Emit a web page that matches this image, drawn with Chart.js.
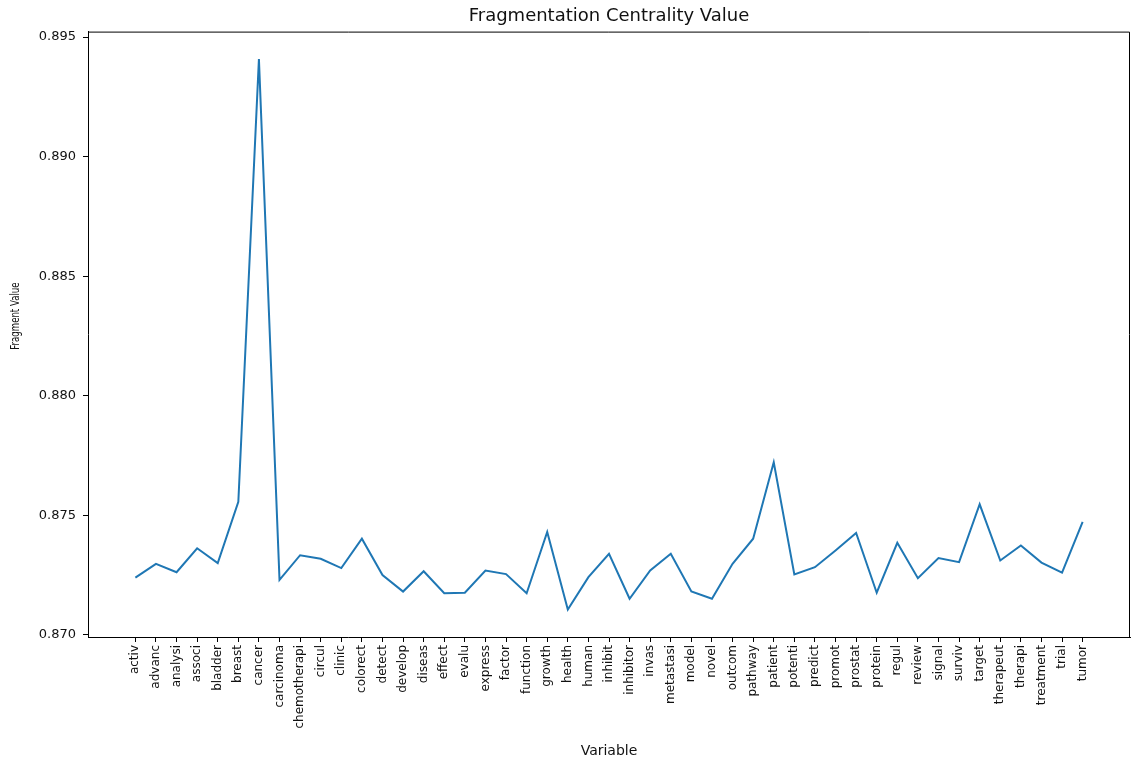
<!DOCTYPE html>
<html>
<head>
<meta charset="utf-8">
<script src="https://cdn.jsdelivr.net/npm/chart.js@4"></script>
<style>
  body { margin: 0; background: #fff; }
</style>
</head>
<body>
<canvas id="fragment-chart" width="1132" height="761"></canvas>
<script>
var variables = ['activ', 'advanc', 'analysi', 'associ', 'bladder', 'breast', 'cancer', 'carcinoma', 'chemotherapi', 'circul',
  'clinic', 'colorect', 'detect', 'develop', 'diseas', 'effect', 'evalu', 'express', 'factor', 'function',
  'growth', 'health', 'human', 'inhibit', 'inhibitor', 'invas', 'metastasi', 'model', 'novel', 'outcom',
  'pathway', 'patient', 'potenti', 'predict', 'promot', 'prostat', 'protein', 'regul', 'review', 'signal',
  'surviv', 'target', 'therapeut', 'therapi', 'treatment', 'trial', 'tumor'];

var fragmentValues = [0.87239, 0.87297, 0.87262, 0.87362, 0.87300, 0.87556, 0.89408, 0.87230, 0.87333, 0.87318,
  0.87279, 0.87402, 0.87250, 0.87181, 0.87266, 0.87174, 0.87176, 0.87269, 0.87254, 0.87174,
  0.87430, 0.87106, 0.87241, 0.87339, 0.87151, 0.87269, 0.87339, 0.87181, 0.87151, 0.87297,
  0.87402, 0.87722, 0.87253, 0.87283, 0.87353, 0.87426, 0.87176, 0.87385, 0.87237, 0.87321,
  0.87304, 0.87546, 0.87311, 0.87374, 0.87302, 0.87260, 0.87472];

var yTicks = [0.870, 0.875, 0.880, 0.885, 0.890, 0.895];

// matplotlib-style 5% margins around the data
var xMargin = (variables.length - 1) * 0.05;
var yMin = Math.min.apply(null, fragmentValues);
var yMax = Math.max.apply(null, fragmentValues);
var yMargin = (yMax - yMin) * 0.05;

var points = [];
for (var i = 0; i < variables.length; i++) {
  points.push({ x: i, y: fragmentValues[i] });
}

// top and right spines, plus the (condensed) y axis label
var frameBox = {
  id: 'frameBox',
  afterDraw: function(chart) {
    var a = chart.chartArea;
    var ctx = chart.ctx;
    ctx.save();
    ctx.strokeStyle = '#000';
    ctx.lineWidth = 1;
    ctx.beginPath();
    ctx.moveTo(a.left, a.top + 0.5);
    ctx.lineTo(a.right - 0.5, a.top + 0.5);
    ctx.lineTo(a.right - 0.5, a.bottom);
    ctx.stroke();

    ctx.translate(16, a.top + (a.bottom - a.top) * 0.47);
    ctx.rotate(-Math.PI / 2);
    ctx.scale(0.66, 1);
    ctx.fillStyle = '#111';
    ctx.font = '13px "DejaVu Sans"';
    ctx.textAlign = 'center';
    ctx.textBaseline = 'middle';
    ctx.fillText('Fragment Value', 0, 0);
    ctx.restore();
  }
};

new Chart(document.getElementById('fragment-chart'), {
  type: 'line',
  data: {
    datasets: [{
      label: 'Fragment Value',
      data: points,
      borderColor: '#1f77b4',
      borderWidth: 2,
      pointRadius: 0,
      tension: 0,
      fill: false
    }]
  },
  options: {
    responsive: false,
    animation: false,
    layout: { padding: { left: 0, right: 2, top: 0, bottom: 0 } },
    plugins: {
      legend: { display: false },
      tooltip: { enabled: false },
      title: {
        display: true,
        text: 'Fragmentation Centrality Value',
        fullSize: false,
        color: '#111',
        font: { family: 'DejaVu Sans', size: 18, weight: 'normal' },
        padding: { top: 6, bottom: 4 }
      }
    },
    scales: {
      x: {
        type: 'linear',
        min: -xMargin,
        max: variables.length - 1 + xMargin,
        afterFit: function(scale) { scale.height = 124; },
        afterBuildTicks: function(scale) {
          scale.ticks = variables.map(function(v, idx) { return { value: idx }; });
        },
        ticks: {
          stepSize: 1,
          autoSkip: false,
          includeBounds: false,
          minRotation: 90,
          maxRotation: 90,
          padding: 3,
          color: '#111',
          font: { family: 'DejaVu Sans', size: 12 },
          callback: function(value) { return variables[value]; }
        },
        grid: { drawOnChartArea: false, drawTicks: true, tickLength: 5, tickColor: '#000' },
        border: { display: true, color: '#000', width: 1 },
        title: {
          display: true,
          text: 'Variable',
          color: '#111',
          font: { family: 'DejaVu Sans', size: 14 },
          padding: { top: 0, bottom: 1 }
        }
      },
      y: {
        min: yMin - yMargin,
        max: yMax + yMargin,
        afterFit: function(scale) { scale.width = 88; },
        afterBuildTicks: function(scale) {
          scale.ticks = yTicks.map(function(v) { return { value: v }; });
        },
        ticks: {
          padding: 7,
          color: '#111',
          font: { family: 'DejaVu Sans', size: 13 },
          callback: function(value) { return value.toFixed(3); }
        },
        grid: { drawOnChartArea: false, drawTicks: true, tickLength: 5, tickColor: '#000' },
        border: { display: true, color: '#000', width: 1 }
      }
    }
  },
  plugins: [frameBox]
});
</script>
</body>
</html>
